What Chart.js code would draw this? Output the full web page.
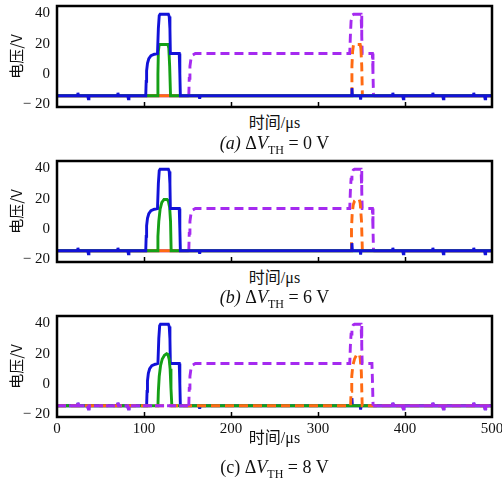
<!DOCTYPE html>
<html><head><meta charset="utf-8">
<script src="https://cdn.jsdelivr.net/npm/chart.js@4.4.0/dist/chart.umd.min.js"></script>
<style>
body{margin:0;background:#fff;width:502px;height:487px;position:relative;overflow:hidden}
canvas{position:absolute;left:0}
.cap{position:absolute;left:57px;width:435px;text-align:center;font-family:"Liberation Serif","Noto Sans CJK SC",serif;color:#111;white-space:nowrap;z-index:2}
.xt{font-size:16px;line-height:20px}
.sub{font-size:12px;position:relative;top:5px}
.pc{font-size:18px;line-height:22px}
</style></head><body>
<canvas id="ca" width="502" height="110" style="top:0px"></canvas>
<canvas id="cb" width="502" height="110" style="top:155px"></canvas>
<canvas id="cc" width="502" height="132" style="top:310px"></canvas>
<div class="cap xt" style="top:113px">时间/μs</div>
<div class="cap pc" style="top:132px"><i>(a)</i> Δ<i>V</i><span class="sub">TH</span> = 0 V</div>
<div class="cap xt" style="top:268px">时间/μs</div>
<div class="cap pc" style="top:286px"><i>(b)</i> Δ<i>V</i><span class="sub">TH</span> = 6 V</div>
<div class="cap xt" style="top:428px">时间/μs</div>
<div class="cap pc" style="top:456px">(c) Δ<i>V</i><span class="sub">TH</span> = 8 V</div>
<script>
// ---- axis ticks ----
const xTicks = [0, 100, 200, 300, 400, 500];
const yTicks = [-20, 0, 20, 40];

// ---- small glitches on the off-state baseline (time, value) ----
const spikeT = [24, 36, 70, 82, 164, 386, 398, 432, 444, 479, 492];
const spikeV = [-12.5, -16.5, -12.5, -16.5, -16.5, -12.5, -16.5, -12.5, -16.5, -12.5, -16.5];

// ---- panel (a) ΔVTH = 0 V ----
const blueA_t = [0, 102, 102.5, 103, 104, 105.5, 108, 112, 115.5, 116.5, 117.5, 118.5, 128, 129, 129.8, 130.3, 140.5, 141.2, 141.8, 338.5, 339, 339.5, 348.5, 349, 349.5, 500];
const blueA_v = [-14.5, -14.5, -5, 2, 7, 10, 12, 13, 13.5, 30, 38.5, 39.5, 39.5, 38, 30, 13.5, 13.5, 0, -14.5, -14.5, -9.5, -14.5, -14.5, -17, -14.5, -14.5];
const greenA_t = [0, 115.5, 116, 116.5, 117.5, 127.5, 128.5, 129.5, 130.5, 500];
const greenA_v = [-14.5, -14.5, 0, 15, 19.5, 19.5, 17, 5, -14.5, -14.5];
const purpleA_t = [0, 151.5, 152, 152.8, 154, 156, 159, 336.5, 337.2, 338, 339.5, 341, 349.5, 350.3, 350.8, 362.5, 363.2, 363.8, 500];
const purpleA_v = [-14.5, -14.5, -3, 5, 10, 12.5, 13.5, 13.5, 25, 35, 39, 39.5, 39.5, 25, 13.5, 13.5, 0, -14.5, -14.5];
const orangeA_t = [0, 338.5, 339, 339.8, 340.8, 348.5, 349.3, 350.3, 351, 500];
const orangeA_v = [-14.5, -14.5, 5, 15, 19.5, 19.5, 17, 5, -14.5, -14.5];

// ---- panel (b) ΔVTH = 6 V ----
const blueB_t = [0, 102, 102.5, 103, 104, 105.5, 108, 112, 115.5, 116.5, 117.5, 118.5, 128, 129, 129.8, 130.3, 140.5, 141.2, 141.8, 338.5, 339, 339.5, 348.5, 349, 349.5, 500];
const blueB_v = [-14.5, -14.5, -5, 2, 7, 10, 12, 13, 13.5, 30, 38.5, 39.5, 39.5, 38, 30, 13.5, 13.5, 0, -14.5, -14.5, -9.5, -14.5, -14.5, -17, -14.5, -14.5];
const greenB_t = [0, 115.5, 116, 117, 118.5, 120.5, 123, 126.5, 128, 129.5, 130.5, 131.2, 500];
const greenB_v = [-14.5, -14.5, -5, 5, 13, 17.5, 19.5, 19.5, 18.5, 14, 5, -14.5, -14.5];
const purpleB_t = [0, 151.5, 152, 152.8, 154, 156, 159, 336.5, 337.2, 338, 339, 340.5, 342, 349.5, 350.3, 350.8, 362.5, 363.2, 363.8, 500];
const purpleB_v = [-14.5, -14.5, -3, 5, 10, 12.5, 13.5, 13.5, 25, 33, 37, 39, 39.5, 39.5, 25, 13.5, 13.5, 0, -14.5, -14.5];
const orangeB_t = [0, 338, 338.5, 339.3, 340.5, 342, 344, 347.5, 348.5, 350, 351, 500];
const orangeB_v = [-14.5, -14.5, 0, 10, 16, 18.5, 19.5, 19.5, 17, 5, -14.5, -14.5];

// ---- panel (c) ΔVTH = 8 V ----
const blueC_t = [0, 103, 103.5, 104, 105, 106.5, 109, 113, 116, 117, 118, 119, 128, 129, 129.8, 130.3, 140.5, 141.2, 141.8, 338.5, 339, 339.5, 348.5, 349, 349.5, 500];
const blueC_v = [-14.5, -14.5, -5, 2, 7, 10, 12, 13, 13.5, 30, 38.5, 39.5, 39.5, 38, 30, 13.5, 13.5, 0, -14.5, -14.5, -9.5, -14.5, -14.5, -17, -14.5, -14.5];
const greenC_t = [0, 116, 116.5, 117.5, 119, 121, 123.5, 126, 127.5, 129, 130, 131, 132, 500];
const greenC_v = [-14.5, -14.5, -5, 5, 12, 16.5, 19, 20, 19.5, 16, 10, -3, -14.5, -14.5];
const purpleC_t = [0, 151.5, 152, 152.8, 154, 156, 159, 336.5, 337.2, 338, 339, 340.5, 342, 349.5, 350.3, 350.8, 362, 362.7, 363.3, 500];
const purpleC_v = [-14.5, -14.5, -3, 5, 10, 12.5, 13.5, 13.5, 25, 33, 37, 39, 39.5, 39.5, 25, 13.5, 13.5, 0, -14.5, -14.5];
const orangeC_t = [0, 337.5, 338, 338.8, 340, 342, 344, 346, 347.5, 348.5, 349.8, 350.8, 500];
const orangeC_v = [-14.5, -14.5, -5, 5, 12, 16.5, 18.8, 19.8, 19.5, 17, 8, -14.5, -14.5];

const BLUE = '#1212d8', GREEN = '#15a015', PURPLE = '#a52af0', ORANGE = '#ff6a12';
const LW = 2.9;

function pts(t, v) { return t.map((x, i) => ({ x: x, y: v[i] })); }
function withSpikes(t, v, skip) {
  const p = pts(t, v);
  spikeT.forEach((s, i) => {
    if (skip && s > skip[0] && s < skip[1]) return;
    p.push({ x: s - 0.7, y: -14.5 }, { x: s, y: spikeV[i] }, { x: s + 0.7, y: -14.5 });
  });
  return p.sort((a, b) => a.x - b.x);
}

const isBase = c => Math.max(c.p0.parsed.y, c.p1.parsed.y) < -10;

function solid(color, data) {
  return { data, borderColor: color, borderWidth: LW, pointRadius: 0, fill: false };
}
function dashed(color, data, baseDash) {
  return {
    data, borderColor: color, borderWidth: LW, pointRadius: 0, fill: false,
    segment: { borderDash: c => isBase(c) ? baseDash(c) : [9, 5] }
  };
}

const framePlugin = {
  id: 'frame',
  afterDatasetsDraw(chart) {
    const { ctx, chartArea: a } = chart;
    const x = chart.scales.x;
    ctx.save();
    ctx.strokeStyle = '#000';
    ctx.beginPath();
    xTicks.forEach(v => {
      if (v > xTicks[0] && v < xTicks[xTicks.length - 1]) {
        const px = Math.round(x.getPixelForValue(v)) + 0.5;
        ctx.moveTo(px, a.bottom);
        ctx.lineTo(px, a.bottom - 5);
      }
    });
    ctx.lineWidth = 1.5;
    ctx.stroke();
    ctx.lineWidth = 2.5;
    ctx.strokeRect(a.left, a.top, a.right - a.left, a.bottom - a.top);
    ctx.restore();
  }
};

function makeChart(id, datasets, showX) {
  return new Chart(document.getElementById(id), {
    type: 'line',
    data: { datasets },
    plugins: [framePlugin],
    options: {
      responsive: false, animation: false, devicePixelRatio: 1,
      layout: { padding: { top: 6, right: 10, left: 0, bottom: 0 } },
      plugins: { legend: { display: false }, tooltip: { enabled: false } },
      elements: { line: { tension: 0 } },
      scales: {
        x: {
          type: 'linear', min: 0, max: 500,
          afterBuildTicks: s => { s.ticks = xTicks.map(v => ({ value: v })); },
          ticks: { display: showX, padding: 3, color: '#111', maxRotation: 0, autoSkip: false,
                   font: { family: 'Liberation Serif', size: 15 } },
          grid: { display: false, drawTicks: false },
          border: { display: false },
          afterFit: s => { s.height = showX ? 25 : 3; s.paddingLeft = 0; s.paddingRight = 0; }
        },
        y: {
          type: 'linear', min: -22, max: 45,
          afterBuildTicks: s => { s.ticks = yTicks.map(v => ({ value: v })); },
          ticks: { padding: 7, color: '#111', font: { family: 'Liberation Serif', size: 15 },
                   callback: v => v < 0 ? '\u2212 ' + Math.abs(v) : String(v) },
          grid: { display: false, drawTicks: false },
          border: { display: false },
          title: { display: true, text: '电压/V', color: '#111',
                   font: { family: 'Noto Sans CJK SC', size: 15 }, padding: { top: 7, bottom: 0 } },
          afterFit: s => { s.width = 57; s.paddingTop = 0; s.paddingBottom = 0; }
        }
      }
    }
  });
}

// dataset index 0 is drawn on top
makeChart('ca', [
  solid(BLUE, withSpikes(blueA_t, blueA_v)),
  solid(GREEN, pts(greenA_t, greenA_v)),
  dashed(ORANGE, pts(orangeA_t, orangeA_v), () => []),
  dashed(PURPLE, pts(purpleA_t, purpleA_v), () => [])
], false);

makeChart('cb', [
  solid(BLUE, withSpikes(blueB_t, blueB_v)),
  solid(GREEN, pts(greenB_t, greenB_v)),
  dashed(ORANGE, pts(orangeB_t, orangeB_v), () => []),
  dashed(PURPLE, pts(purpleB_t, purpleB_v), () => [])
], false);

makeChart('cc', [
  dashed(PURPLE, withSpikes(purpleC_t, purpleC_v, [150, 366]), c => c.p0.parsed.x < 110 ? [9, 3] : []),
  dashed(ORANGE, pts(orangeC_t, orangeC_v), () => [9, 5]),
  solid(GREEN, pts(greenC_t, greenC_v)),
  solid(BLUE, withSpikes(blueC_t, blueC_v))
], true);
</script>
</body></html>
